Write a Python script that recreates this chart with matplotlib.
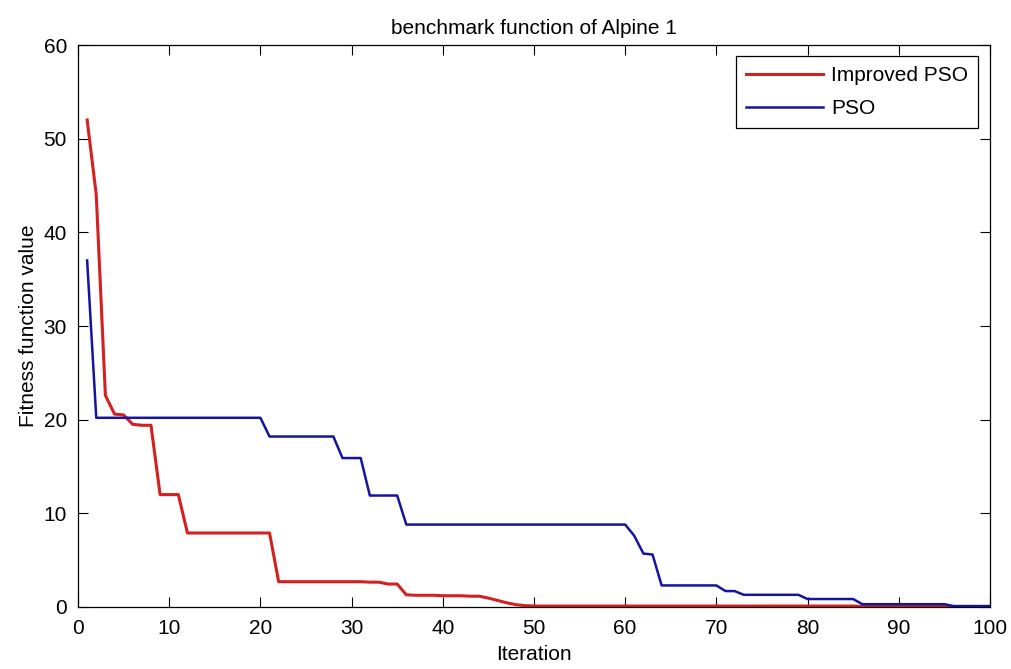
import matplotlib
matplotlib.use("Agg")
import matplotlib.pyplot as plt

plt.rcParams['font.family'] = ['Liberation Sans', 'DejaVu Sans']

iterations = list(range(1, 101))

improved_pso = [
    52.0, 44.0, 22.6, 20.6, 20.5, 19.5, 19.4, 19.4, 12.0, 12.0,
    12.0, 7.9, 7.9, 7.9, 7.9, 7.9, 7.9, 7.9, 7.9, 7.9,
    7.9, 2.7, 2.7, 2.7, 2.7, 2.7, 2.7, 2.7, 2.7, 2.7,
    2.7, 2.65, 2.65, 2.45, 2.45, 1.3, 1.25, 1.25, 1.25, 1.2,
    1.2, 1.2, 1.15, 1.15, 0.95, 0.7, 0.45, 0.25, 0.15, 0.1,
    0.1, 0.1, 0.1, 0.1, 0.1, 0.1, 0.1, 0.1, 0.1, 0.1,
    0.1, 0.1, 0.1, 0.1, 0.1, 0.1, 0.1, 0.1, 0.1, 0.1,
    0.1, 0.1, 0.1, 0.1, 0.1, 0.1, 0.1, 0.1, 0.1, 0.1,
    0.1, 0.1, 0.1, 0.1, 0.1, 0.05, 0.05, 0.05, 0.05, 0.05,
    0.05, 0.05, 0.05, 0.05, 0.05, 0.05, 0.05, 0.05, 0.05, 0.05,
]

pso = [
    37.0, 20.2, 20.2, 20.2, 20.2, 20.2, 20.2, 20.2, 20.2, 20.2,
    20.2, 20.2, 20.2, 20.2, 20.2, 20.2, 20.2, 20.2, 20.2, 20.2,
    18.2, 18.2, 18.2, 18.2, 18.2, 18.2, 18.2, 18.2, 15.9, 15.9,
    15.9, 11.9, 11.9, 11.9, 11.9, 8.8, 8.8, 8.8, 8.8, 8.8,
    8.8, 8.8, 8.8, 8.8, 8.8, 8.8, 8.8, 8.8, 8.8, 8.8,
    8.8, 8.8, 8.8, 8.8, 8.8, 8.8, 8.8, 8.8, 8.8, 8.8,
    7.6, 5.7, 5.6, 2.3, 2.3, 2.3, 2.3, 2.3, 2.3, 2.3,
    1.7, 1.7, 1.3, 1.3, 1.3, 1.3, 1.3, 1.3, 1.3, 0.85,
    0.85, 0.85, 0.85, 0.85, 0.85, 0.3, 0.3, 0.3, 0.3, 0.3,
    0.3, 0.3, 0.3, 0.3, 0.3, 0.1, 0.1, 0.1, 0.1, 0.1,
]

series_labels = ["Improved PSO", "PSO"]
x_ticks = list(range(0, 101, 10))
y_ticks = list(range(0, 61, 10))

FS = 15

fig = plt.figure(figsize=(10.12, 6.69), dpi=100)
ax = fig.add_axes([0.0771, 0.0927, 0.9011, 0.8400])

ax.plot(iterations, improved_pso, color='#d42020', linewidth=2.2, label=series_labels[0])
ax.plot(iterations, pso, color='#1414a0', linewidth=1.8, label=series_labels[1])

ax.set_xlim(0, 100)
ax.set_ylim(0, 60)
ax.set_xticks(x_ticks)
ax.set_yticks(y_ticks)
ax.tick_params(direction='in', length=7, width=0.8, top=True, right=True,
               labelsize=FS)
ax.tick_params(axis='x', pad=9)
ax.tick_params(axis='y', pad=8)
for s in ax.spines.values():
    s.set_linewidth(0.9)

ax.set_title("benchmark function of Alpine 1", fontsize=FS, pad=8)
ax.set_xlabel("Iteration", fontsize=FS, labelpad=5)
ax.set_ylabel("Fitness function value", fontsize=FS, labelpad=4)

leg = ax.legend(loc='upper right', fontsize=FS, handlelength=3.7,
                handletextpad=0.4, labelspacing=0.65, borderaxespad=0.55,
                fancybox=False, framealpha=1, edgecolor='black',
                borderpad=0.48)
leg.get_frame().set_linewidth(0.9)

fig.savefig("out.png", dpi=100, facecolor='white')
